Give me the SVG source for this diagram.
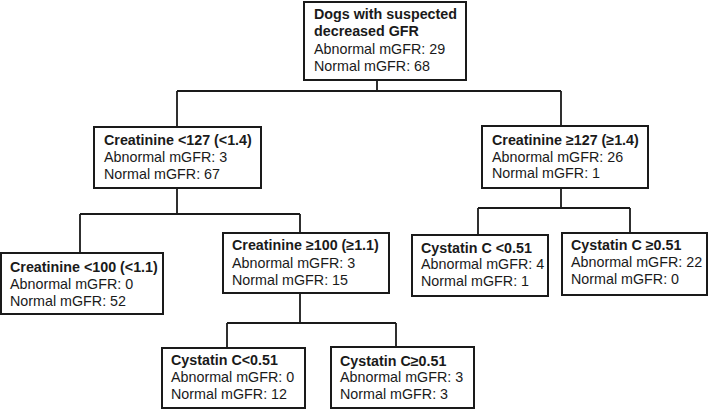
<svg xmlns="http://www.w3.org/2000/svg" width="709" height="410" viewBox="0 0 709 410">
<style>
rect{fill:#fff;stroke:#1a1a1a;stroke-width:2}
text{font-family:"Liberation Sans",Arial,sans-serif;font-size:14.3px;fill:#1a1a1a}
.b{font-weight:bold}
#connectors path{fill:none;stroke:#1a1a1a;stroke-width:1.8}
</style>
<rect x="0" y="0" width="709" height="410" style="fill:#fff;stroke:none"/>
<g id="connectors">
<path d="M377 80V91M177 91H561M177 91V127M561 91V126"/>
<path d="M177 188V214M80 214H300M80 214V253M300 214V233"/>
<path d="M300 293V323M227 323H396M227 323V348M396 323V347"/>
<path d="M561 188V208M478 208H630M478 208V235M630 208V233"/>
</g>
<g id="root">
<rect x="304" y="2" width="162" height="78"/>
<text x="314" y="19" class="b">Dogs with suspected</text>
<text x="314" y="36" class="b">decreased GFR</text>
<text x="314" y="54">Abnormal mGFR: 29</text>
<text x="314" y="71">Normal mGFR: 68</text>
</g>
<g id="crea-lt127">
<rect x="94" y="127" width="167" height="61"/>
<text x="104" y="145" class="b">Creatinine &lt;127 (&lt;1.4)</text>
<text x="104" y="162">Abnormal mGFR: 3</text>
<text x="104" y="179">Normal mGFR: 67</text>
</g>
<g id="crea-ge127">
<rect x="482" y="126" width="166" height="62"/>
<text x="492" y="145" class="b">Creatinine ≥127 (≥1.4)</text>
<text x="492" y="162">Abnormal mGFR: 26</text>
<text x="492" y="178">Normal mGFR: 1</text>
</g>
<g id="crea-lt100">
<rect x="1" y="253" width="162" height="61"/>
<text x="10" y="272" class="b">Creatinine &lt;100 (&lt;1.1)</text>
<text x="10" y="289">Abnormal mGFR: 0</text>
<text x="10" y="306">Normal mGFR: 52</text>
</g>
<g id="crea-ge100">
<rect x="223" y="233" width="166" height="60"/>
<text x="232" y="250" class="b">Creatinine ≥100 (≥1.1)</text>
<text x="232" y="268">Abnormal mGFR: 3</text>
<text x="232" y="285">Normal mGFR: 15</text>
</g>
<g id="cys-lt051-a">
<rect x="162" y="348" width="143" height="60"/>
<text x="171" y="365" class="b">Cystatin C&lt;0.51</text>
<text x="171" y="382">Abnormal mGFR: 0</text>
<text x="171" y="399">Normal mGFR: 12</text>
</g>
<g id="cys-ge051-a">
<rect x="331" y="347" width="143" height="61"/>
<text x="340" y="366" class="b">Cystatin C≥0.51</text>
<text x="340" y="382">Abnormal mGFR: 3</text>
<text x="340" y="399">Normal mGFR: 3</text>
</g>
<g id="cys-lt051-b">
<rect x="412" y="235" width="136" height="61"/>
<text x="421" y="253" class="b">Cystatin C &lt;0.51</text>
<text x="421" y="269">Abnormal mGFR: 4</text>
<text x="421" y="286">Normal mGFR: 1</text>
</g>
<g id="cys-ge051-b">
<rect x="562" y="233" width="145" height="62"/>
<text x="571" y="250" class="b">Cystatin C ≥0.51</text>
<text x="571" y="267">Abnormal mGFR: 22</text>
<text x="571" y="284">Normal mGFR: 0</text>
</g>
</svg>
